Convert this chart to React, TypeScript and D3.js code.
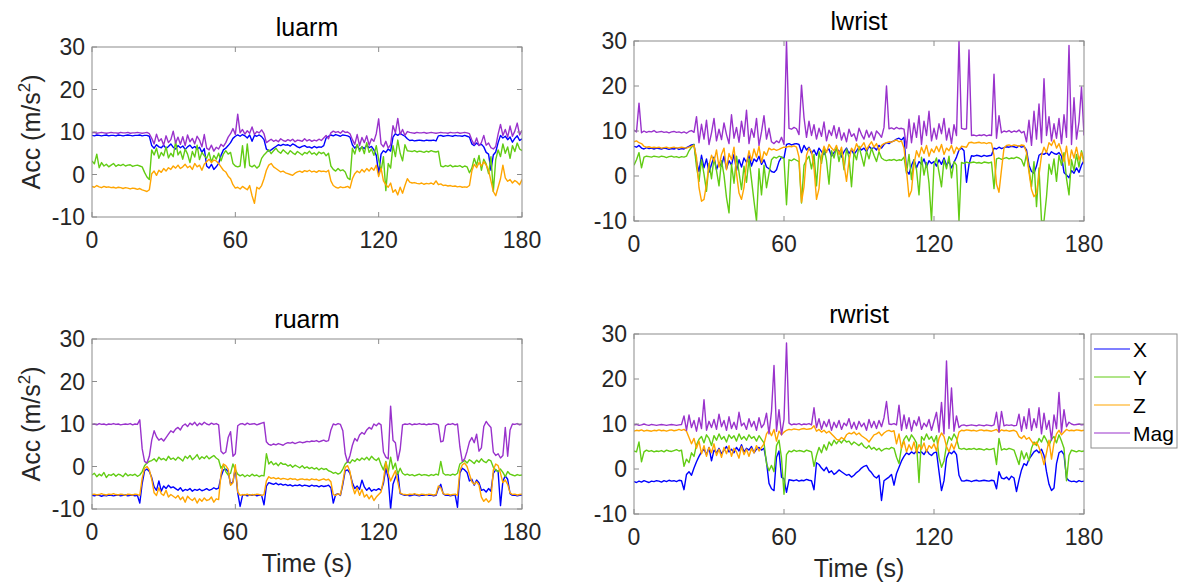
import React from 'react';
import * as d3 from 'd3';

// Tri-axial accelerometer traces for four body-worn sensors, one sample per second.
const sensorNames = ['luarm', 'lwrist', 'ruarm', 'rwrist'];
const seriesNames = ['X', 'Y', 'Z', 'Mag'];
const timeTicks = [0, 60, 120, 180];
const accTicks = [-10, 0, 10, 20, 30];
const secondsPerSample = 1;

// ---- luarm ----
const luarmX = [
  9.2, 9.1, 9.3, 9.2, 9.1, 9.2, 9.3, 9.1, 9.2, 9.2,
  9.1, 9.3, 9.2, 9.1, 9.2, 9.3, 9.2, 9.1, 9.2, 9.2,
  9.3, 9.1, 9.2, 9.2, 9.0,
  6.8, 6.2, 7.0, 6.5, 6.3, 6.9, 6.1, 6.6, 7.2, 6.4,
  6.0, 6.8, 6.3, 6.7, 5.9, 6.5, 6.9, 6.2, 6.6, 6.0,
  6.4, 5.2, 6.1, 2.0, 1.5, 2.4, 1.2, 1.8, 2.6, 4.5,
  5.8, 6.2, 6.8, 7.5, 8.5, 9.0,
  9.3, 9.0, 9.4, 9.1, 8.6, 9.3, 7.8, 9.2, 9.0, 9.3,
  8.9, 8.2, 6.0, 5.5, 5.8, 6.2, 6.6, 7.0, 6.8, 7.1,
  6.9, 7.0, 6.7, 7.2, 6.9, 6.5, 6.3, 6.6, 6.8, 6.4,
  6.5, 6.2, 6.6, 6.3, 6.5, 6.4, 6.8, 8.6, 9.0, 9.3,
  9.1, 9.4, 9.2, 9.0, 9.3, 9.2, 9.1, 8.8, 7.0, 6.2,
  6.8, 5.9, 6.5, 6.1, 6.9, 6.3, 6.6, 5.8, 4.5, 0.2,
  4.8, 5.6, 5.2, 6.0, 5.5, 8.8, 9.6, 9.2, 9.7, 9.3,
  9.0, 8.4, 8.0, 8.1, 7.9, 8.0, 8.1, 8.0, 7.9, 8.1,
  8.0, 8.0, 8.1, 7.9, 9.1, 9.2, 9.0, 9.1, 9.2, 9.1,
  9.0, 9.2, 9.1, 9.1, 9.0, 9.2, 9.0, 8.8, 7.2, 6.8,
  7.4, 6.9, 7.1, 6.5, 5.2, 4.8, 1.0, 4.6, 5.3, 7.5,
  9.2, 8.6, 9.0, 8.2, 8.8, 7.6, 8.5, 9.1, 8.0, 8.4,
];
const luarmY = [
  3.2, 2.5, 4.8, 1.6, 2.8, 2.0, 2.4, 1.8, 2.2, 2.6,
  1.9, 2.3, 2.1, 2.4, 2.0, 2.2, 2.3, 1.9, 2.1, 2.2,
  2.0, 1.8, 0.5, -0.6, -1.2,
  5.8, 4.6, 6.2, 3.8, 5.2, 4.4, 6.5, 3.9, 5.0, 4.2,
  7.8, 4.6, 5.5, 3.6, 6.0, 4.8, 2.8, 5.4, 4.1, 6.9,
  3.5, 5.2, 4.4, 3.8, 5.2, 2.9, 4.5, 3.6, 5.0, 3.2,
  4.8, 5.6, 4.8, 5.2, 2.6, 2.0,
  1.8, 2.0, 6.8, 1.6, 7.2, 2.1, 1.8, 2.2, 1.5, 2.0,
  3.8, 4.6, 5.2, 5.8, 4.9, 5.6, 6.2, 5.4, 5.0, 5.8,
  5.3, 4.8, 5.6, 5.1, 4.7, 5.4, 5.0, 4.6, 5.2, 4.9,
  5.5, 4.8, 5.1, 4.6, 5.3, 4.9, 5.2, 4.4, 5.0, 2.0,
  1.2, 0.8, 1.4, 0.9, 1.1, 0.6, -0.8, -1.2, 6.2, 4.8,
  7.1, 5.4, 6.6, 4.9, 7.5, 5.2, 6.0, 4.5, 6.8, 3.5,
  0.8, 4.2, -3.8, 2.6, 1.5, 6.8, 4.2, 8.1, 5.0, 3.2,
  7.0, 5.6, 5.5, 5.4, 5.6, 5.3, 5.5, 5.4, 5.2, 5.5,
  5.3, 5.6, 5.4, 5.3, 5.5, 2.0, 1.8, 2.1, 1.9, 2.2,
  1.8, 2.0, 1.9, 2.1, 1.7, 2.0, 1.8, 0.4, 1.5, 3.8,
  2.2, 4.5, 1.0, 3.6, 2.5, 0.2, 4.2, -4.0, 3.5, 5.8,
  4.2, 7.2, 5.0, 6.5, 3.8, 6.8, 5.4, 7.4, 6.0, 5.6,
];
const luarmZ = [
  -2.8, -3.0, -2.6, -2.9, -3.1, -2.8, -3.0, -2.9, -3.1, -3.0,
  -3.2, -3.0, -3.1, -3.3, -3.1, -3.2, -3.4, -3.2, -3.3, -3.5,
  -3.3, -3.6, -3.8, -4.0, -3.6,
  0.2, 0.8, -0.2, 1.0, 0.5, 1.4, 0.8, 1.6, 1.2, 2.0,
  1.5, 2.2, 1.4, 1.8, 2.4, 1.6, 2.0, 1.2, 2.6, 1.8,
  2.2, 1.0, 2.4, 3.0, 3.6, 2.8, 3.4, 3.2, 2.6, 1.8,
  1.0, 0.6, -0.4, -1.0, -2.4, -3.2,
  -3.0, -3.4, -2.8, -3.2, -3.6, -2.6, -5.0, -6.8, -3.0, -3.4,
  -2.6, -1.0, 1.0, 2.2, 2.6, 1.8, 1.4, 1.0, 0.6, 0.8,
  0.4, 0.2, 0.0, -0.2, 0.3, 0.6, 0.8, 0.5, 0.9, 0.7,
  1.0, 0.6, 0.8, 0.5, 0.9, 0.7, 0.8, 0.6, 1.0, -1.5,
  -2.6, -3.0, -3.2, -2.9, -3.1, -3.0, -2.8, -3.2, -1.0, 0.2,
  0.8, 0.4, 1.2, 0.6, 1.4, 0.8, 1.6, 1.0, 2.2, -0.5,
  1.5, -1.5, -2.4, -3.0, -2.0, -4.2, -3.6, -4.8, -3.0, -4.4,
  -2.6, -1.0, -1.8, -2.0, -1.9, -2.1, -2.2, -2.0, -2.3, -2.1,
  -2.2, -2.0, -2.3, -1.5, -2.4, -2.2, -2.6, -2.5, -2.7, -2.6,
  -2.8, -2.7, -2.9, -2.8, -3.0, -2.9, -3.0, -2.6, 0.8, 2.4,
  1.6, 2.8, 2.0, 3.0, 2.2, 1.0, -1.5, -4.0, -5.0, -3.0,
  -1.0, 2.2, -0.8, -1.6, -1.2, -2.0, -1.4, -1.8, -2.4, -1.2,
];
const luarmMag = [
  9.8, 9.9, 9.7, 9.8, 9.9, 9.8, 9.7, 9.8, 9.9, 9.8,
  9.8, 9.7, 9.9, 9.8, 9.8, 9.9, 9.7, 9.8, 9.8, 9.9,
  9.8, 9.7, 9.8, 9.9, 9.6,
  8.5, 7.2, 9.5, 7.8, 8.4, 6.9, 9.1, 7.5, 8.2, 10.2,
  7.4, 8.8, 7.1, 8.9, 6.8, 9.3, 7.7, 8.5, 7.2, 9.0,
  8.1, 6.5, 9.4, 6.2, 5.8, 6.9, 5.5, 6.4, 6.0, 7.1,
  6.6, 7.5, 8.8, 9.6, 10.8, 9.4,
  14.2, 9.8, 10.6, 9.5, 10.3, 9.7, 11.2, 9.4, 10.1, 9.8,
  10.5, 9.6, 7.5, 7.9, 8.3, 7.8, 8.1, 7.7, 8.4, 8.0,
  7.8, 8.2, 7.9, 8.3, 7.7, 8.1, 8.0, 7.8, 8.4, 7.9,
  8.2, 7.8, 8.1, 7.9, 8.3, 8.0, 8.6, 9.2, 8.4, 9.8,
  10.2, 9.9, 10.1, 9.7, 10.3, 9.9, 10.0, 9.6, 8.2, 7.1,
  9.4, 6.8, 8.7, 7.5, 9.1, 6.9, 8.4, 7.8, 9.6, 13.1,
  7.2, 6.5, 7.8, 6.2, 7.0, 11.5, 9.8, 13.2, 9.4, 10.6,
  9.2, 10.1, 9.9, 9.8, 9.7, 9.9, 9.8, 9.8, 9.9, 9.7,
  9.8, 9.9, 9.8, 9.7, 9.8, 9.9, 9.8, 9.8, 9.7, 9.9,
  9.8, 9.8, 9.9, 9.7, 9.8, 9.9, 9.8, 9.6, 8.1, 7.0,
  8.6, 6.8, 7.5, 9.2, 6.9, 7.4, 6.3, 6.0, 6.6, 9.5,
  11.8, 9.2, 10.6, 8.8, 11.4, 9.0, 10.2, 12.1, 9.3, 10.4,
];

// ---- lwrist ----
const lwristX = [
  6.6, 6.4, 6.8, 6.2, 6.0, 6.3, 6.1, 6.2, 6.0, 6.2,
  6.1, 6.0, 6.2, 6.1, 5.9, 6.1, 6.0, 6.2, 5.9, 6.1,
  6.0, 6.3, 6.6, 6.9, 7.0,
  3.2, 1.0, 4.6, 1.8, 3.8, 0.8, 2.6, 4.2, 1.4, 3.0,
  2.2, 4.4, 1.6, 3.4, 2.4, 4.8, 1.2, 3.6, 2.0, 4.0,
  3.0, 4.6, 2.2, 3.8, 3.2, 4.4, 2.6, 3.6, 2.0, 1.6,
  1.0, 0.8, 1.4, 3.2, 4.2, 4.0,
  7.0, 7.2, 6.9, 7.1, 7.2, 7.0, 5.2, 6.8, 5.8, 6.4,
  5.0, 5.8, 4.6, 6.2, 5.4, 4.8, 5.6, 6.0, 4.4, 5.2,
  6.0, 5.6, 4.2, 5.4, 6.2, 5.0, 5.8, 4.8, 5.6, 6.4,
  5.8, 6.2, 5.4, 6.6, 6.0, 6.4, 5.8, 6.8, 6.2, 7.0,
  7.4, 7.2, 7.6, 7.8, 8.2, 8.4, 8.0, 8.6, 1.2, 0.4,
  2.4, 3.6, 1.8, 3.2, 2.6, 3.8, 2.0, 3.4, 2.8, 3.2,
  2.2, 3.6, 2.6, 4.0, 2.4, 3.2, 1.8, 3.0, 4.2, 5.8,
  6.2, 5.6, -1.4, 2.6, 4.5, 4.4, 4.6, 4.5, 4.3, 4.6,
  4.4, 4.5, 4.6, 6.2, 6.0, 6.4, 6.1, 6.3, 6.5, 6.4,
  6.6, 6.5, 6.3, 6.7, 6.4, 6.6, 5.8, 2.4, 1.0, 0.6,
  2.2, 4.6, 5.0, 4.8, 5.2, 4.6, 5.4, 5.0, 4.8, 5.2,
  4.4, 0.8, 0.2, -0.4, 1.2, 0.6, 1.8, 0.8, 2.4, 3.4,
];
const lwristY = [
  2.4, 3.6, 5.2, 1.8, 4.2, 4.4, 4.3, 4.2, 4.4, 4.3,
  4.2, 4.4, 4.3, 4.1, 4.3, 4.4, 4.2, 4.3, 4.1, 4.3,
  4.2, 4.4, 5.6, 6.4, 7.0,
  2.0, -1.2, 3.6, 0.4, -3.4, 2.8, -0.6, 4.0, 1.2, -2.2,
  3.4, 0.2, -4.8, -8.2, 2.6, -1.6, 4.4, 0.8, -3.0, 2.2,
  -1.4, 3.8, -0.8, -5.6, -10, 1.6, -4.2, 2.4, -2.6, 0.6,
  3.6, 4.2, 4.0, 4.4, 4.2, 3.8,
  -6.4, 3.6, 3.4, 3.8, 3.5, 3.2, -6.0, 2.4, 3.6, 4.4,
  1.6, 4.8, -2.2, 5.4, 2.8, 6.2, 3.4, -1.8, 5.6, 4.0,
  6.4, 3.2, 5.8, 1.4, 6.0, 4.2, -2.4, 5.2, 3.6, 6.6,
  4.4, 2.2, 5.6, 3.8, 6.2, 4.6, 3.2, 5.4, 4.0, 3.6,
  3.4, 3.6, 3.5, 3.7, 3.4, 3.6, 3.5, 4.2, 0.6, 4.8,
  -0.8, 3.6, 1.4, -4.2, 4.2, 0.2, 3.0, -1.6, -10, 2.6,
  4.0, 0.8, -2.4, 3.6, 1.6, 4.4, -0.4, 3.2, 2.4, -10,
  3.0, 2.8, 3.1, 2.9, 3.0, 3.1, 2.9, 3.0, 2.8, 3.1,
  3.0, 2.9, 3.1, -2.8, 3.8, 4.0, 3.7, 3.9, 4.1, 3.8,
  4.0, 3.9, 4.2, 4.0, 3.6, 2.2, 4.8, 1.4, -2.4, 3.2,
  -6.8, 1.8, -10, -10, -4.6, 2.6, 0.4, 3.8, -1.2, 4.6,
  2.4, 5.2, -0.6, -4.2, 3.6, 1.2, 4.8, 2.0, 5.6, 3.4,
];
const lwristZ = [
  7.6, 7.8, 7.4, 7.2, 6.6, 6.4, 6.5, 6.3, 6.4, 6.3,
  6.4, 6.2, 6.3, 6.4, 6.2, 6.3, 6.4, 6.2, 6.3, 6.4,
  6.3, 6.2, 6.4, 6.6, 6.8,
  4.2, -2.6, -5.6, -5.2, -1.8, 2.4, 4.6, 3.2, 5.8, 2.0,
  4.8, 6.2, 1.4, 5.0, 3.6, 6.4, 0.6, -3.8, -5.2, -2.6,
  2.8, 5.6, 3.4, 6.0, 4.2, 6.6, 3.0, 5.4, 4.6, 6.2,
  5.8, 6.0, 5.7, 5.9, 6.2, 6.4,
  6.4, 6.6, 6.5, 6.7, 6.4, 4.2, -5.8, -2.4, 4.6, 6.2,
  5.4, 1.8, -5.2, -2.8, 4.4, 6.6, 5.2, 7.0, 6.2, 5.6,
  6.8, 4.8, 6.4, 2.6, -1.2, 3.4, 6.2, 5.4, 7.2, 6.0,
  6.6, 7.4, 5.8, 6.8, 7.6, 6.4, 7.2, 5.6, 6.8, 7.2,
  7.4, 7.6, 7.5, 7.8, 8.0, 7.6, 7.8, 6.2, 1.2, -4.6,
  -3.2, 2.6, 5.6, 4.2, 6.4, 5.0, 6.8, 4.4, 6.0, 5.2,
  6.6, 5.4, 7.0, 4.8, 6.2, 5.6, 6.8, 5.0, 6.4, 5.8,
  6.6, 6.5, 6.4, 7.4, 7.5, 7.3, 7.4, 7.5, 7.3, 7.4,
  7.2, 7.4, 7.3, 4.6, -1.8, -3.6, 1.4, 6.2, 6.8, 6.9,
  6.7, 6.9, 6.8, 6.6, 6.9, 6.8, 5.2, 0.8, -3.0, -4.6,
  -3.8, 0.2, 4.6, 6.4, 5.2, 7.4, 6.8, 8.0, 6.2, 7.2,
  5.4, 3.2, 6.6, 2.4, 5.8, 4.0, 6.4, 3.6, 5.2, 2.8,
];
const lwristMag = [
  10.2, 9.8, 16.2, 9.6, 10.0, 9.7, 9.9, 9.8, 10.1, 9.7,
  9.8, 9.9, 9.7, 9.8, 9.6, 9.8, 9.9, 9.7, 9.8, 9.6,
  9.8, 9.5, 9.9, 10.1, 9.7,
  13.2, 7.4, 11.5, 8.2, 12.4, 7.0, 9.6, 12.8, 7.8, 10.4,
  8.1, 11.8, 9.2, 7.2, 13.6, 8.4, 10.8, 7.5, 12.2, 8.8,
  14.6, 7.2, 10.5, 8.6, 12.8, 6.8, 9.8, 13.4, 8.2, 10.6,
  7.6, 7.2, 7.8, 7.4, 8.6, 7.0,
  30, 10.6, 10.4, 10.8, 10.5, 9.2, 20.2, 13.0, 8.6, 12.2,
  9.0, 11.4, 8.2, 10.6, 8.8, 12.0, 7.8, 10.2, 9.0, 11.2,
  8.4, 10.8, 8.0, 9.6, 7.6, 10.4, 8.8, 9.4, 7.8, 10.6,
  9.2, 8.2, 10.2, 8.6, 9.8, 8.0, 10.0, 9.4, 8.6, 10.8,
  20.0, 10.5, 10.7, 10.4, 10.8, 10.5, 10.6, 10.4, 6.2, 12.6,
  7.4, 11.8, 8.6, 13.4, 7.0, 12.2, 9.0, 14.4, 7.8, 10.6,
  8.2, 11.6, 9.4, 12.8, 8.0, 10.6, 7.2, 11.4, 9.0, 30,
  10.6, 10.4, 10.5, 28.0, 9.0, 9.1, 8.9, 9.1, 9.0, 9.2,
  8.9, 9.1, 9.0, 22.6, 8.4, 13.4, 9.6, 10.0, 9.8, 10.1,
  9.7, 10.0, 9.8, 10.2, 9.6, 9.9, 7.6, 12.4, 6.8, 14.4,
  8.2, 16.0, 7.4, 21.6, 9.0, 13.2, 7.8, 11.6, 8.4, 12.8,
  7.2, 13.6, 8.6, 29.0, 7.0, 17.4, 8.2, 12.0, 19.8, 9.0,
];

// ---- ruarm ----
const ruarmX = [
  -6.8, -6.9, -6.7, -6.8, -7.0, -6.8, -6.9, -6.7, -6.8, -6.9,
  -6.8, -6.7, -6.9, -6.8, -6.7, -6.9, -6.8, -6.7, -6.9, -6.8,
  -8.6, -4.0, -1.0, -0.6, -1.2,
  -2.6, -4.8, -5.6, -3.4, -5.8, -4.6, -5.2, -4.4, -5.0, -4.8,
  -5.2, -5.6, -5.0, -5.8, -5.4, -5.6, -5.2, -5.8, -5.4, -5.6,
  -5.3, -5.7, -5.5, -5.2, -5.6, -5.4, -5.0, -5.3, -5.1, -2.4,
  -0.8, -0.6, -1.2, -4.2, -3.6, -0.4,
  -6.2, -9.4, -6.8, -6.6, -6.9, -6.7, -6.8, -6.6, -6.9, -6.7,
  -6.8, -9.0, -4.6, -3.8, -4.0, -4.2, -3.9, -4.3, -4.1, -4.4,
  -4.2, -4.5, -4.3, -4.6, -4.4, -4.5, -4.3, -4.6, -4.4, -4.5,
  -4.7, -4.4, -4.6, -4.5, -4.8, -4.5, -4.7, -4.6, -4.4, -5.0,
  -8.6, -6.6, -6.4, -6.8, -4.2, -1.0, -0.8, -1.6, -3.8, -5.2,
  -4.6, -5.4, -3.2, -4.8, -5.6, -5.0, -5.8, -5.4, -5.6, -5.2,
  -5.6, -4.0, -0.4, -2.8, -10, -4.2, -2.6, -1.2, -6.4, -6.6,
  -6.8, -6.7, -6.9, -6.8, -6.6, -6.8, -6.9, -6.7, -6.8, -6.6,
  -6.8, -6.7, -6.9, -6.8, -5.2, -4.2, -6.4, -6.8, -6.7, -6.9,
  -6.8, -6.6, -9.6, -1.6, -0.4, -0.8, -1.4, -3.4, -3.0, -4.4,
  -3.2, -3.8, -5.6, -5.4, -6.0, -5.2, -5.8, -1.6, -0.8, -1.2,
  -9.2, -3.4, -2.2, -3.0, -6.4, -6.8, -6.7, -6.9, -6.8, -6.7,
];
const ruarmY = [
  -2.0, -1.6, -2.4, -1.8, -2.2, -1.4, -2.6, -1.9, -2.1, -1.7,
  -2.3, -1.8, -2.0, -2.4, -1.6, -2.2, -1.9, -2.1, -1.8, -2.3,
  -2.0, -1.2, 0.2, 0.8, 1.2,
  1.4, 1.8, 1.2, 2.2, 1.6, 1.9, 1.4, 2.4, 1.7, 2.0,
  1.5, 2.2, 1.8, 1.3, 2.4, 1.9, 2.6, 1.6, 2.1, 2.8,
  1.7, 2.3, 1.9, 2.5, 1.8, 2.2, 2.6, 2.0, 1.6, -0.4,
  0.4, -1.2, -2.0, -1.6, 0.6, -0.8,
  -1.8, -2.2, -1.9, -2.4, -2.0, -2.3, -1.8, -2.2, -2.0, -2.4,
  -2.1, -2.2, 3.0, 0.6, 1.2, 0.4, 0.8, 0.2, 0.9, 0.5,
  0.6, 0.1, 0.4, -0.2, 0.3, 0.0, -0.3, 0.2, -0.4, -0.1,
  -0.5, -0.2, -0.6, -0.3, -0.8, -0.4, -0.7, -0.5, -1.0, -1.2,
  -1.6, -1.4, -1.8, -1.5, -0.6, 0.6, 1.2, 0.8, 1.6, 1.2,
  1.8, 1.4, 2.0, 1.6, 2.2, 1.5, 2.4, 1.8, 1.4, 2.0,
  0.4, -0.8, 1.2, -1.4, 2.2, -0.6, 0.8, -1.8, -0.4, -1.6,
  -2.0, -1.8, -2.1, -1.9, -2.2, -2.0, -1.8, -2.1, -1.9, -2.0,
  -2.2, -1.9, -2.1, -1.8, -2.0, 1.2, -1.6, -2.0, -1.9, -2.1,
  -1.8, -2.0, -1.6, 0.6, 1.0, 1.4, 0.8, 1.6, 1.2, 0.7,
  1.5, 1.0, 1.8, 1.2, 0.9, 1.6, 1.3, -0.2, -0.8, -1.2,
  -0.6, -1.4, -2.4, -1.2, -1.8, -2.0, -2.2, -1.9, -2.1, -2.0,
];
const ruarmZ = [
  -6.6, -6.5, -6.7, -6.6, -6.4, -6.6, -6.7, -6.5, -6.6, -6.4,
  -6.6, -6.7, -6.5, -6.6, -6.8, -6.5, -6.6, -6.7, -6.5, -6.6,
  -6.8, -2.8, -0.4, 0.0, -0.8,
  -3.0, -6.2, -6.8, -5.0, -6.4, -6.8, -5.6, -7.2, -6.6, -7.0,
  -7.4, -6.8, -7.8, -7.2, -8.4, -7.0, -7.6, -8.0, -7.4, -8.6,
  -7.6, -8.2, -7.4, -8.0, -7.8, -7.2, -8.4, -7.6, -7.8, -1.8,
  0.6, 0.2, -0.6, -4.4, -3.8, 0.4,
  -6.0, -6.8, -6.6, -6.7, -6.5, -6.8, -6.6, -6.7, -6.5, -6.6,
  -6.8, -6.6, -3.4, -2.4, -2.8, -2.6, -2.9, -2.7, -3.0, -2.8,
  -2.9, -3.1, -2.8, -3.0, -2.9, -3.2, -3.0, -2.9, -3.1, -3.0,
  -3.2, -2.9, -3.1, -3.0, -3.3, -3.1, -2.9, -3.2, -3.0, -3.6,
  -6.6, -6.8, -6.4, -6.7, -3.6, -0.2, 0.2, -1.2, -4.6, -6.4,
  -5.0, -6.8, -5.4, -7.2, -6.6, -7.6, -6.8, -8.0, -7.2, -6.6,
  -6.0, -3.2, 1.0, -1.6, -3.4, -2.2, -1.0, -3.6, -6.2, -6.5,
  -6.6, -6.7, -6.5, -6.6, -6.4, -6.6, -6.7, -6.5, -6.6, -6.7,
  -6.5, -6.6, -6.7, -6.6, -4.6, -5.0, -6.4, -6.6, -6.5, -6.7,
  -6.6, -6.5, -6.8, -1.0, 0.4, 0.8, 0.0, -1.8, -3.6, -4.2,
  -3.6, -4.4, -7.2, -8.2, -7.6, -8.4, -7.8, -0.8, 0.6, 0.2,
  -1.6, -3.8, -3.2, -4.2, -6.2, -6.6, -6.5, -6.7, -6.6, -6.5,
];
const ruarmMag = [
  9.9, 10.0, 9.8, 10.1, 9.9, 10.0, 9.8, 10.0, 9.9, 10.1,
  9.9, 10.0, 9.8, 9.9, 10.0, 9.9, 10.1, 9.8, 10.0, 9.9,
  11.0, 4.2, 1.2, 0.8, 2.4,
  6.2, 8.4, 7.0, 6.2, 6.6, 6.0, 6.8, 7.6, 8.4, 8.0,
  8.8, 9.2, 8.6, 9.6, 10.0, 9.4, 10.2, 9.8, 10.4, 9.6,
  10.2, 9.8, 10.4, 10.0, 9.8, 10.2, 9.9, 10.1, 9.8, 3.6,
  3.0, 3.4, 6.8, 8.2, 2.4, 3.0,
  9.6, 10.0, 10.1, 9.8, 10.2, 9.9, 10.0, 10.1, 9.8, 10.0,
  10.2, 10.4, 5.8, 5.2, 5.0, 5.3, 5.1, 5.4, 5.2, 5.0,
  5.4, 5.6, 5.5, 5.7, 5.4, 5.6, 5.8, 5.6, 5.7, 5.9,
  5.8, 6.0, 5.9, 6.1, 5.8, 6.0, 6.2, 5.9, 6.1, 8.6,
  10.0, 9.8, 10.1, 9.9, 8.4, 3.0, 1.0, 2.6, 5.0, 6.6,
  6.0, 7.4, 8.0, 7.6, 8.6, 9.2, 8.8, 10.0, 9.6, 10.2,
  9.8, 3.4, 2.2, 1.8, 14.2, 6.2, 5.6, 1.4, 4.0, 9.8,
  10.0, 9.9, 10.1, 9.8, 10.0, 9.9, 10.1, 9.9, 10.0, 9.8,
  10.0, 9.9, 10.1, 10.0, 9.8, 5.8, 6.0, 9.6, 10.0, 9.9,
  10.1, 9.8, 10.0, 4.6, 1.2, 1.8, 3.6, 5.8, 6.8, 5.6,
  7.6, 3.6, 4.4, 9.4, 10.6, 9.8, 9.2, 3.4, 2.6, 3.0,
  2.0, 2.6, 9.2, 2.4, 8.6, 10.0, 9.9, 10.1, 9.8, 10.0,
];

// ---- rwrist ----
const rwristX = [
  -2.8, -3.0, -2.7, -2.9, -2.6, -2.8, -3.0, -2.7, -2.8, -2.6,
  -2.7, -2.9, -2.6, -2.8, -2.5, -2.7, -2.6, -2.8, -2.5, -2.6,
  -4.6, -1.2, -0.6, -1.4, 0.2,
  1.6, 2.8, 3.8, 4.4, 3.2, 4.8, 1.8, 4.2, 3.6, 4.6,
  3.4, 4.2, 5.0, 3.8, 4.4, 3.6, 4.8, 4.0, 5.4, 3.8,
  4.6, 4.2, 5.0, 3.6, 4.4, 4.8, 4.2, 4.6, 1.6, -3.2,
  -4.4, -4.8, 2.6, 4.0, -1.8, -2.2,
  -5.2, -2.4, -2.5, -2.6, -2.4, -2.7, -2.5, -2.6, -2.3, -2.5,
  -2.6, -4.6, 1.4, 1.0, 0.2, -0.4, 0.4, -0.8, -0.4, -1.2,
  -0.8, -0.2, -0.6, -1.0, -1.4, -1.2, -1.8, -1.4, -0.8, -0.4,
  0.2, 0.6, 0.8, -0.2, -0.8, -1.6, -2.0, -1.4, -7.0, -2.6,
  -2.2, -1.8, -1.2, -3.6, -1.0, 0.4, 1.8, 2.8, 3.6, 3.2,
  3.8, 3.4, 4.0, 3.6, 3.8, 3.2, 4.2, 3.4, 3.0, 3.6,
  3.8, -0.6, -4.8, -2.6, 2.4, 3.8, 3.4, 4.0, 3.2, -1.4,
  -2.6, -2.7, -2.5, -2.6, -2.8, -2.6, -2.5, -2.7, -2.6, -2.5,
  -2.6, -2.7, -2.5, -2.6, -4.4, -0.6, -2.0, -2.2, -1.8, -2.4,
  -1.6, -2.0, -5.0, -2.4, -0.2, 1.2, 0.8, 2.2, 3.0, 3.8,
  4.2, 3.6, 4.4, 3.0, -0.6, -3.4, -4.8, -4.2, 1.2, 3.6,
  4.0, 3.2, -2.0, -2.6, -2.8, -2.7, -2.9, -2.6, -2.8, -2.7,
];
const rwristY = [
  4.0, 3.8, 6.0, 1.6, 3.8, 4.2, 3.9, 4.1, 3.8, 4.0,
  3.9, 4.1, 3.8, 4.2, 4.0, 3.9, 4.1, 4.3, 4.0, 4.2,
  0.6, 2.2, 1.4, 3.6, 2.8,
  5.4, 6.6, 7.2, 5.8, 7.6, 6.8, 5.2, 7.4, 6.4, 7.8,
  6.6, 7.2, 6.0, 7.6, 6.8, 7.4, 6.2, 7.8, 6.6, 7.2,
  6.4, 7.6, 6.8, 7.2, 6.2, 7.4, 6.6, 5.8, 1.2, -0.4,
  0.8, -0.6, 5.2, 6.4, 2.4, -5.6,
  3.2, 4.0, 3.8, 4.2, 3.9, 4.1, 4.0, 3.8, 4.2, 4.0,
  3.8, 0.6, 3.0, 4.8, 3.6, 5.4, 4.2, 6.0, 5.2, 6.4,
  5.6, 6.4, 5.8, 6.6, 6.0, 6.2, 5.4, 6.0, 5.6, 5.2,
  5.8, 5.0, 4.6, 5.2, 4.4, 4.8, 4.2, 4.6, 4.0, 4.4,
  4.6, 4.4, 4.8, 4.6, 2.6, 1.2, 4.8, 6.6, 7.4, 6.2,
  7.6, 6.8, 5.8, -3.0, 7.2, 6.4, 7.8, 6.6, 7.2, 6.0,
  7.4, 2.6, 0.4, 1.8, 5.2, 7.2, 6.4, 7.8, 6.8, 4.6,
  4.4, 4.6, 4.3, 4.5, 4.4, 4.6, 4.3, 4.5, 4.4, 4.2,
  4.5, 4.3, 4.4, 4.6, 1.0, 6.8, 4.2, 4.5, 4.3, 4.6,
  4.4, 4.2, 2.6, 1.0, 4.0, 2.2, 3.6, 1.8, 4.6, 6.0,
  5.2, 6.8, 6.0, 7.4, 6.4, 5.2, 6.6, 7.2, 5.8, 7.6,
  6.2, 4.6, -2.6, 3.0, 4.2, 4.0, 3.8, 4.1, 3.9, 4.0,
];
const rwristZ = [
  8.4, 8.6, 8.5, 8.7, 8.4, 8.6, 8.5, 8.4, 8.6, 8.5,
  8.7, 8.5, 8.6, 8.4, 8.6, 8.7, 8.5, 8.6, 8.8, 8.6,
  8.8, 8.4, 7.0, 5.6, 6.8,
  4.6, 6.2, 3.4, 5.2, 2.8, 4.8, 3.6, 5.6, 3.0, 4.4,
  2.6, 4.8, 3.4, 5.2, 2.8, 4.6, 3.8, 2.4, 5.0, 3.2,
  4.4, 2.8, 4.6, 3.6, 5.2, 4.0, 4.8, 5.6, 7.8, 8.6,
  7.4, 8.8, 6.2, 8.4, 7.6, 8.2,
  8.6, 8.8, 8.7, 8.9, 8.8, 8.7, 8.9, 9.0, 8.8, 8.9,
  9.0, 9.6, 8.4, 8.8, 8.2, 8.6, 8.0, 8.4, 7.8, 7.2,
  6.6, 6.4, 7.0, 6.6, 7.6, 8.0, 7.8, 8.2, 7.6, 8.0,
  7.4, 7.0, 6.6, 6.0, 6.8, 7.6, 7.8, 8.2, 7.4, 8.0,
  8.4, 8.6, 8.3, 8.5, 5.6, 7.8, 4.6, 6.2, 3.8, 5.4,
  4.2, 6.0, 3.6, 5.4, 4.4, 5.8, 3.8, 5.2, 4.6, 5.6,
  4.0, 6.8, 8.0, 7.2, 5.0, 3.8, 5.6, 4.4, 6.0, 8.2,
  8.6, 8.5, 8.7, 8.6, 8.5, 8.6, 8.4, 8.6, 8.7, 8.5,
  8.6, 8.5, 8.4, 8.6, 8.8, 8.2, 8.7, 8.5, 8.6, 8.4,
  8.5, 8.6, 8.3, 7.2, 6.8, 7.4, 6.6, 7.0, 6.2, 5.4,
  6.0, 4.8, 3.2, 1.0, 3.6, 6.4, 2.2, 5.8, 7.8, 8.6,
  7.6, 8.2, 8.8, 8.5, 8.6, 8.5, 8.7, 8.6, 8.5, 8.6,
];
const rwristMag = [
  9.8, 9.9, 9.7, 9.8, 10.0, 9.8, 9.7, 9.9, 9.8, 9.7,
  9.8, 9.9, 9.8, 9.7, 9.8, 9.9, 9.8, 9.7, 9.8, 9.9,
  11.8, 8.6, 12.0, 9.2, 10.8,
  8.4, 11.4, 9.0, 15.4, 8.6, 10.6, 9.2, 11.0, 8.8, 12.2,
  9.4, 10.8, 8.6, 11.6, 9.0, 10.4, 8.8, 12.6, 9.6, 10.2,
  8.8, 11.2, 9.4, 10.6, 8.6, 11.4, 9.2, 10.0, 12.4, 7.8,
  12.8, 23.0, 8.4, 13.2, 7.6, 11.0,
  28.0, 10.2, 9.8, 10.0, 9.9, 10.1, 9.8, 10.0, 9.9, 10.1,
  9.8, 13.6, 9.2, 11.2, 8.8, 10.6, 9.4, 11.0, 8.6, 10.4,
  9.2, 10.8, 8.8, 10.2, 9.6, 11.2, 9.0, 10.4, 8.8, 10.6,
  9.4, 10.2, 8.6, 11.0, 9.2, 10.6, 9.0, 10.8, 9.4, 11.4,
  15.0, 10.0, 9.9, 10.1, 9.8, 14.2, 8.6, 12.0, 9.0, 11.4,
  8.4, 10.8, 9.6, 11.6, 8.8, 10.2, 9.4, 11.0, 8.6, 10.6,
  12.6, 8.2, 14.8, 7.8, 24.0, 9.0, 18.0, 8.4, 11.8, 9.2,
  9.7, 9.8, 9.6, 9.7, 9.8, 9.7, 9.6, 9.8, 9.7, 9.6,
  9.8, 9.7, 9.6, 9.8, 12.6, 8.2, 12.8, 9.6, 9.8, 9.7,
  9.8, 9.6, 9.7, 12.2, 8.4, 11.6, 9.0, 13.4, 8.6, 11.2,
  9.2, 13.6, 7.8, 12.4, 8.8, 10.8, 6.4, 12.0, 9.0, 17.0,
  8.2, 13.2, 9.4, 10.4, 10.0, 9.8, 9.9, 10.0, 9.8, 9.9,
];

const W = 1179;
const H = 586;
const FONT = "'Liberation Sans', Arial, Helvetica, sans-serif";
const SERIES_COLORS = ['#0000ff', '#62cc14', '#ffa500', '#9932cc'];
const AXIS_COLOR = '#8c8c8c';
const TEXT_COLOR = '#262626';

type Frame = { left: number; top: number; width: number; height: number };

const panels: { name: string; series: number[][]; frame: Frame; showYLabel: boolean; showXLabel: boolean }[] = [
  { name: sensorNames[0], series: [luarmX, luarmY, luarmZ, luarmMag], frame: { left: 92, top: 47, width: 430, height: 170 }, showYLabel: true, showXLabel: false },
  { name: sensorNames[1], series: [lwristX, lwristY, lwristZ, lwristMag], frame: { left: 634, top: 41, width: 450, height: 180 }, showYLabel: false, showXLabel: false },
  { name: sensorNames[2], series: [ruarmX, ruarmY, ruarmZ, ruarmMag], frame: { left: 92, top: 339, width: 430, height: 170 }, showYLabel: true, showXLabel: true },
  { name: sensorNames[3], series: [rwristX, rwristY, rwristZ, rwristMag], frame: { left: 634, top: 334, width: 450, height: 180 }, showYLabel: false, showXLabel: true },
];

function Panel({ name, series, frame, showYLabel, showXLabel }: (typeof panels)[number]) {
  const right = frame.left + frame.width;
  const bottom = frame.top + frame.height;
  const x = d3.scaleLinear().domain([0, 180]).range([frame.left, right]);
  const y = d3.scaleLinear().domain([-10, 30]).range([bottom, frame.top]);
  const line = d3
    .line<number>()
    .x((_, i) => x(i * secondsPerSample))
    .y((d) => y(d));
  const tickLen = 5;
  const clipId = `clip-${name}`;

  return (
    <g>
      <defs>
        <clipPath id={clipId}>
          <rect x={frame.left} y={frame.top} width={frame.width} height={frame.height} />
        </clipPath>
      </defs>
      <g clipPath={`url(#${clipId})`}>
        {series.map((s, k) => (
          <path
            key={seriesNames[k]}
            d={line(s) ?? ''}
            fill="none"
            stroke={SERIES_COLORS[k]}
            strokeWidth={1.4}
            strokeLinejoin="round"
          />
        ))}
      </g>
      <rect x={frame.left} y={frame.top} width={frame.width} height={frame.height} fill="none" stroke={AXIS_COLOR} strokeWidth={1} />
      {accTicks.map((v) => (
        <g key={`y${v}`}>
          <line x1={frame.left} x2={frame.left + tickLen} y1={y(v)} y2={y(v)} stroke={AXIS_COLOR} />
          <line x1={right} x2={right - tickLen} y1={y(v)} y2={y(v)} stroke={AXIS_COLOR} />
          <text x={frame.left - 7} y={y(v)} dy="0.36em" textAnchor="end" fontSize={23} fill={TEXT_COLOR}>
            {v}
          </text>
        </g>
      ))}
      {timeTicks.map((t) => (
        <g key={`x${t}`}>
          <line x1={x(t)} x2={x(t)} y1={bottom} y2={bottom - tickLen} stroke={AXIS_COLOR} />
          <line x1={x(t)} x2={x(t)} y1={frame.top} y2={frame.top + tickLen} stroke={AXIS_COLOR} />
          <text x={x(t)} y={bottom + 31} textAnchor="middle" fontSize={23} fill={TEXT_COLOR}>
            {t}
          </text>
        </g>
      ))}
      <text x={(frame.left + right) / 2} y={frame.top - 11} textAnchor="middle" fontSize={25} fill="#000">
        {name}
      </text>
      {showYLabel && (
        <text
          transform={`translate(${frame.left - 52},${(frame.top + bottom) / 2}) rotate(-90)`}
          textAnchor="middle"
          fontSize={25}
          fill={TEXT_COLOR}
        >
          Acc (m/s
          <tspan dy={-10} fontSize={17}>2</tspan>
          <tspan dy={10}>)</tspan>
        </text>
      )}
      {showXLabel && (
        <text x={(frame.left + right) / 2} y={bottom + 63} textAnchor="middle" fontSize={25} fill={TEXT_COLOR}>
          Time (s)
        </text>
      )}
    </g>
  );
}

function Legend() {
  const box = { left: 1091, top: 334, width: 86, height: 114 };
  const rowY = d3.scalePoint<string>().domain(seriesNames).range([349, 433]);
  return (
    <g>
      <rect x={box.left} y={box.top} width={box.width} height={box.height} fill="#fff" stroke={AXIS_COLOR} />
      {seriesNames.map((n, k) => (
        <g key={n}>
          <line x1={box.left + 3} x2={box.left + 39} y1={rowY(n)} y2={rowY(n)} stroke={SERIES_COLORS[k]} strokeWidth={1.2} />
          <text x={box.left + 42} y={rowY(n)} dy="0.36em" fontSize={21} fill="#000">
            {n}
          </text>
        </g>
      ))}
    </g>
  );
}

export default function App() {
  return (
    <svg
      width={W}
      height={H}
      viewBox={`0 0 ${W} ${H}`}
      style={{ position: 'absolute', left: 0, top: 0, background: '#fff', fontFamily: FONT }}
    >
      <rect width={W} height={H} fill="#fff" />
      {panels.map((p) => (
        <Panel key={p.name} {...p} />
      ))}
      <Legend />
    </svg>
  );
}
